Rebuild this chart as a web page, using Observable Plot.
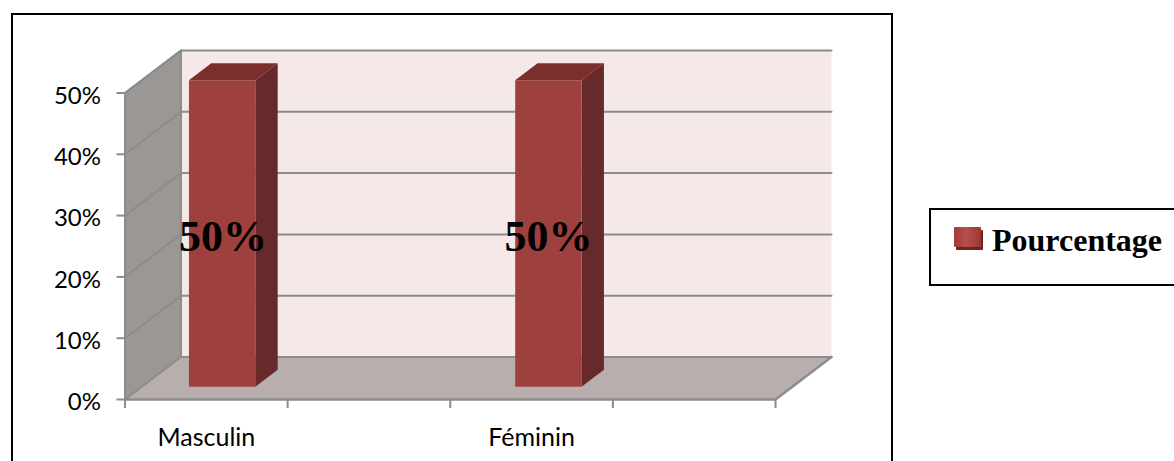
<!DOCTYPE html>
<html>
<head>
<meta charset="utf-8">
<script src="https://cdn.jsdelivr.net/npm/d3@7"></script>
<script src="https://cdn.jsdelivr.net/npm/@observablehq/plot@0.6"></script>
<style>
  html, body { margin: 0; padding: 0; background: #fff; }
  #page { position: relative; width: 1174px; height: 461px; overflow: hidden; }
  #page svg { position: absolute; left: 0; top: 0; }
  #frame { position: absolute; left: 11px; top: 13px; width: 878px; height: 470px; border: 2px solid #000; }
  #legend { position: absolute; left: 929px; top: 208px; width: 270px; height: 74px; border: 2px solid #000; }
  #swatch { position: absolute; left: 23px; top: 17px; width: 27px; height: 20px; background: linear-gradient(90deg, #a33a37, #b5504c 45%, #a03633); box-shadow: 2px 3px 0 #6e2322; border-radius: 1px; }
  #legend span { position: absolute; left: 61px; top: 12px; font: bold 32px "Liberation Serif", serif; color: #000; white-space: nowrap; }
</style>
</head>
<body>
<div id="page">
  <div id="frame"></div>
  <div id="legend"><div id="swatch"></div><span id="legend-label">Pourcentage</span></div>
</div>
<script>
const categories = ["Masculin", "Féminin"];
const values = [50, 50];
const valueLabels = ["50%", "50%"];
const labelSlots = [0.25, 1.25];
const barSlots = [0.247, 1.25];
const yTicks = [0, 10, 20, 30, 40, 50];
const xTicks = [0, 0.5, 1, 1.5, 2];
const seriesName = "Pourcentage";

// Oblique projection: a depth of 1 shifts a point right and up in data units.
const DEPTH_X = 0.172;
const DEPTH_Y = 6.93;
const X_MAX = 2;
const Y_MAX = 50;
const BAR_WIDTH = 0.204;
const BAR_FRONT = 0.3;
const BAR_BACK = 0.7;

const pt = (x, v, d) => ({x: x + d * DEPTH_X, y: v + d * DEPTH_Y});

function face(id, fill, corners) {
  const pts = corners.map(([x, v, d]) => ({...pt(x, v, d), id, fill}));
  return [...pts, pts[0]];
}

// Walls and floor of the chart box.
const shell = [
  ...face("side", "#9b9795", [[0, 0, 0], [0, 0, 1], [0, Y_MAX, 1], [0, Y_MAX, 0]]),
  ...face("back", "#f4e8e8", [[0, 0, 1], [X_MAX, 0, 1], [X_MAX, Y_MAX, 1], [0, Y_MAX, 1]]),
  ...face("floor", "#b8aeae", [[0, 0, 0], [X_MAX, 0, 0], [X_MAX, 0, 1], [0, 0, 1]])
];

// Three visible faces of each bar.
const bars = barSlots.flatMap((s, i) => {
  const x0 = s - BAR_WIDTH / 2, x1 = s + BAR_WIDTH / 2, v = values[i];
  return [
    ...face(`top${i}`, "#7b2f2d", [[x0, v, BAR_FRONT], [x1, v, BAR_FRONT], [x1, v, BAR_BACK], [x0, v, BAR_BACK]]),
    ...face(`right${i}`, "#672929", [[x1, 0, BAR_FRONT], [x1, 0, BAR_BACK], [x1, v, BAR_BACK], [x1, v, BAR_FRONT]]),
    ...face(`front${i}`, "#9e403d", [[x0, 0, BAR_FRONT], [x1, 0, BAR_FRONT], [x1, v, BAR_FRONT], [x0, v, BAR_FRONT]])
  ];
});

// Gridlines run along the side wall, then across the back wall.
const grid = yTicks.flatMap(v => [
  {...pt(0, v, 0), id: v},
  {...pt(0, v, 1), id: v},
  {...pt(X_MAX, v, 1), id: v}
]);

const labelPoints = labelSlots.map((s, i) => ({...pt(s, values[i] / 2, BAR_FRONT), label: valueLabels[i]}));
const sans = "Lato, sans-serif";

const chart = Plot.plot({
  width: 1174,
  height: 461,
  marginLeft: 124.5,
  marginRight: 343,
  marginTop: 50,
  marginBottom: 62,
  style: {background: "transparent"},
  x: {domain: [0, X_MAX + DEPTH_X]},
  y: {domain: [0, Y_MAX + DEPTH_Y]},
  marks: [
    Plot.line(shell, {x: "x", y: "y", z: "id", fill: "fill", stroke: "none"}),
    Plot.line(grid, {x: "x", y: "y", z: "id", stroke: "#8c8c8c", strokeWidth: 2}),
    // Front edges of the box and the diagonal floor edge on the right.
    Plot.line([pt(0, 0, 0), pt(X_MAX, 0, 0), pt(X_MAX, 0, 1)], {x: "x", y: "y", stroke: "#8c8c8c", strokeWidth: 2.5}),
    Plot.line([pt(0, 0, 0), pt(0, Y_MAX, 0), pt(0, Y_MAX, 1), pt(0, 0, 1)], {x: "x", y: "y", stroke: "#8c8c8c", strokeWidth: 2}),
    Plot.line(bars, {x: "x", y: "y", z: "id", fill: "fill", stroke: "none"}),
    // Tick marks and tick labels are separate axes so the labels can sit a little lower.
    Plot.axisY({ticks: yTicks, tickFormat: () => "", tickSize: 8, stroke: "#8c8c8c", strokeWidth: 2, label: null}),
    Plot.axisY({ticks: yTicks, tickFormat: d => `${d}%`, tickSize: 0, tickPadding: 24, dy: 3, fontSize: 24, fontFamily: sans, fill: "#000", label: null}),
    Plot.axisX({ticks: xTicks, tickFormat: () => "", tickSize: 9, stroke: "#8c8c8c", strokeWidth: 2, label: null}),
    Plot.axisX({ticks: labelSlots, tickFormat: d => categories[labelSlots.indexOf(d)], tickSize: 0, tickPadding: 29, fontSize: 25, fontFamily: sans, fill: "#000", label: null}),
    Plot.text(labelPoints, {x: "x", y: "y", text: "label", dy: 3, fontSize: 44, fontWeight: "bold", fontFamily: "Liberation Serif, serif", fill: "#000"})
  ]
});

document.getElementById("page").appendChild(chart);
document.getElementById("legend-label").textContent = seriesName;
</script>
</body>
</html>
